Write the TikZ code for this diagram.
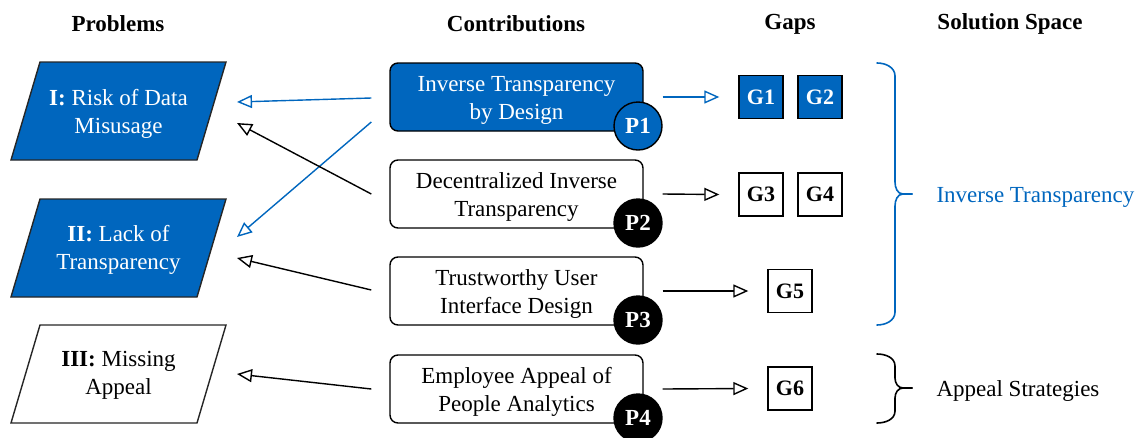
\documentclass[tikz,border=0pt]{standalone}
\usepackage{fontspec}
\setmainfont{Liberation Serif}
\usetikzlibrary{arrows.meta,positioning}
\definecolor{itblue}{RGB}{0,102,190}
\begin{document}
\begin{tikzpicture}[x=1pt,y=-1pt,
  font=\fontsize{23}{28}\selectfont,
  head/.style={font=\fontsize{23}{28}\selectfont\bfseries},
  probshape/.style={draw=black!85, line width=1.4pt},
  contrib/.style={draw=black, line width=1.4pt, rounded corners=8pt,
    minimum width=253pt, minimum height=68pt, inner sep=0pt},
  ctext/.style={align=center, inner sep=0pt},
  badge/.style={circle, draw=black, line width=1.4pt, minimum size=48pt,
    inner sep=0pt, text=white, font=\fontsize{23}{28}\selectfont\bfseries},
  gapbox/.style={draw=black, line width=1.4pt, minimum width=44pt,
    minimum height=43pt, inner sep=0pt, font=\fontsize{22}{26}\selectfont\bfseries},
  arr/.style={line width=1.4pt, -{Triangle[open, length=15pt, width=13pt]}},
  brace/.style={line width=1.6pt, line cap=round}
]
\useasboundingbox (0,0) rectangle (1145,437);

% column headings
\node[head] (hprob) at (118,24) {Problems};
\node[head] (hcon) at (516,24) {Contributions};
\node[head] (hgap) at (790,24) {Gaps};
\node[head] (hsol) at (1010,24) {Solution Space};

% problems (parallelograms)
\fill[itblue] (40,62) -- (226,62) -- (197,160) -- (11,160) -- cycle;
\draw[probshape] (40,62) -- (226,62) -- (197,160) -- (11,160) -- cycle;
\node[text=white, align=center] (prI) at (118.5,113.5) {\textbf{I:} Risk of Data\\Misusage};

\fill[itblue] (40,199) -- (226,199) -- (197,297) -- (11,297) -- cycle;
\draw[probshape] (40,199) -- (226,199) -- (197,297) -- (11,297) -- cycle;
\node[text=white, align=center] (prII) at (118.5,249.5) {\textbf{II:} Lack of\\Transparency};

\fill[white] (40,325) -- (226,325) -- (197,423) -- (11,423) -- cycle;
\draw[probshape] (40,325) -- (226,325) -- (197,423) -- (11,423) -- cycle;
\node[align=center] (prIII) at (118.5,375.5) {\textbf{III:} Missing\\Appeal};

% arrow targets beside the problems
\coordinate (tIa) at (237,102);
\coordinate (tIb) at (237,123);
\coordinate (tIIa) at (237,237);
\coordinate (tIIb) at (237,258);
\coordinate (tIII) at (237,374);

% contributions
\node[contrib, fill=itblue] (b1) at (516.5,97) {};
\node[contrib, fill=white] (b2) at (516.5,194) {};
\node[contrib, fill=white] (b3) at (516.5,291) {};
\node[contrib, fill=white] (b4) at (516.5,389) {};
\node[ctext, text=white] (b1t) at ([yshift=-3pt]b1.center) {Inverse Transparency\\by Design};
\node[ctext] (b2t) at ([yshift=-3pt]b2.center) {Decentralized Inverse\\Transparency};
\node[ctext] (b3t) at ([yshift=-3pt]b3.center) {Trustworthy User\\Interface Design};
\node[ctext] (b4t) at ([yshift=-3pt]b4.center) {Employee Appeal of\\People Analytics};

\node[badge, fill=itblue] (c1) at (638,126) {P1};
\node[badge, fill=black] (c2) at (638,223) {P2};
\node[badge, fill=black] (c3) at (638,320) {P3};
\node[badge, fill=black] (c4) at (638,418) {P4};

% gaps
\node[gapbox, fill=itblue, text=white] (g1) at (761,97) {G1};
\node[gapbox, fill=itblue, text=white] (g2) at (820,97) {G2};
\node[gapbox, fill=white] (g3) at (761,194.5) {G3};
\node[gapbox, fill=white] (g4) at (820,194.5) {G4};
\node[gapbox, fill=white] (g5) at (790,291) {G5};
\node[gapbox, fill=white] (g6) at (790,388.5) {G6};

% contributions -> problems
\draw[arr, itblue] ([xshift=-18pt,yshift=-1pt]b1.west) -- (tIa);
\draw[arr, itblue] ([xshift=-18pt,yshift=-25pt]b1.west) -- (tIIa);
\draw[arr, black] ([xshift=-18pt]b2.west) -- (tIb);
\draw[arr, black] ([xshift=-18pt,yshift=1pt]b3.west) -- (tIIb);
\draw[arr, black] ([xshift=-18pt]b4.west) -- (tIII);

% contributions -> gaps
\draw[arr, itblue] (c1.east |- b1.east) -- ([xshift=-19pt]g1.west);
\draw[arr, black] (c2.east |- b2.east) -- ([xshift=-19pt]g3.west);
\draw[arr, black] (c3.east |- b3.east) -- ([xshift=-19pt]g5.west);
\draw[arr, black] (c4.east |- b4.east) -- ([xshift=-19pt]g6.west);

% braces and solution space
\draw[brace, itblue] (877,63) to[out=0,in=90] (895,76) -- (895,182)
  to[out=-90,in=180] (903,194) -- (912,194);
\draw[brace, itblue] (912,194) -- (903,194) to[out=180,in=90] (895,206)
  -- (895,312) to[out=-90,in=0] (877,325);
\node[anchor=west, text=itblue] (sInv) at (933,197) {Inverse Transparency};

\draw[brace, black] (877,354) to[out=0,in=90] (895,366) -- (895,378)
  to[out=-90,in=180] (903,388) -- (912,388);
\draw[brace, black] (912,388) -- (903,388) to[out=180,in=90] (895,398)
  -- (895,411) to[out=-90,in=0] (877,423);
\node[anchor=west] (sApp) at (933,391) {Appeal Strategies};
\end{tikzpicture}
\end{document}
